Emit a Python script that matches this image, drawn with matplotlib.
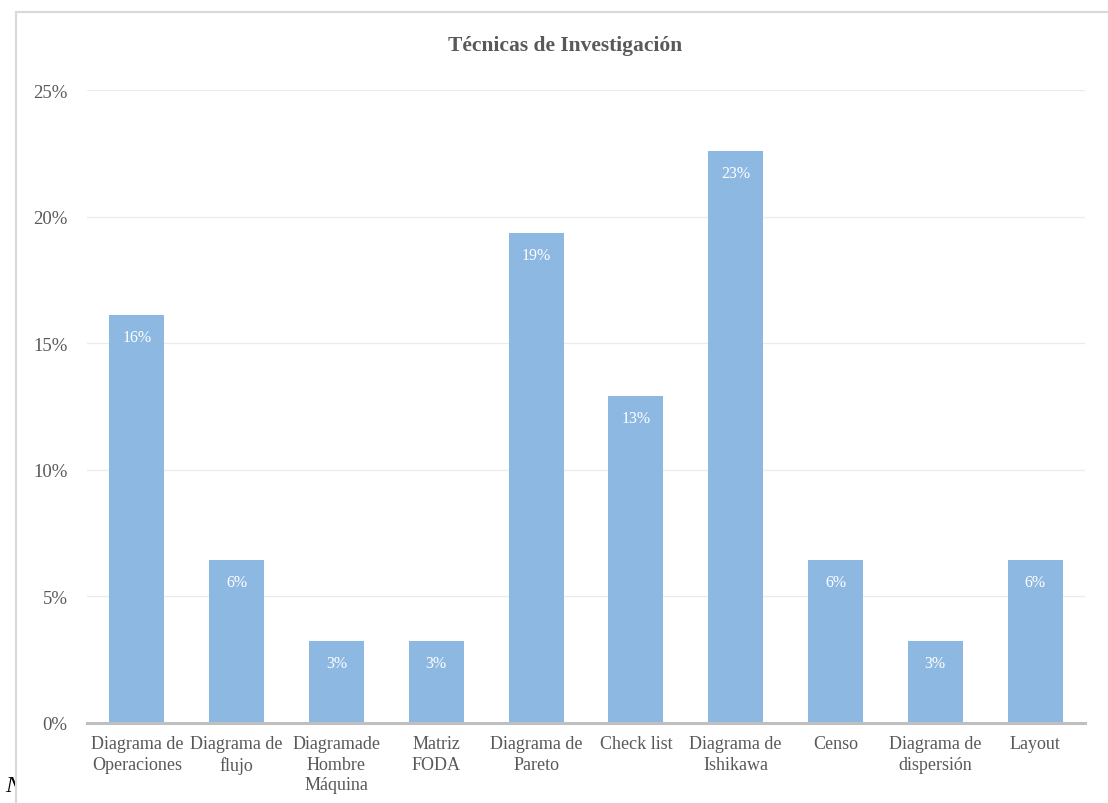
import matplotlib.pyplot as plt
from matplotlib.patches import Rectangle
from matplotlib.ticker import PercentFormatter

# data
categories = ["Diagrama de\nOperaciones", "Diagrama de\nflujo", "Diagramade\nHombre\nMáquina",
              "Matriz\nFODA", "Diagrama de\nPareto", "Check list", "Diagrama de\nIshikawa",
              "Censo", "Diagrama de\ndispersión", "Layout"]
counts = [5, 2, 1, 1, 6, 4, 7, 2, 1, 2]
total = sum(counts)
shares = [c / total for c in counts]
labels = ["16%", "6%", "3%", "3%", "19%", "13%", "23%", "6%", "3%", "6%"]
yticks = [0, 0.05, 0.10, 0.15, 0.20, 0.25]

W, H = 1108, 804
fig = plt.figure(figsize=(W / 100, H / 100), dpi=100)
fig.patch.set_facecolor("white")
plt.rcParams["font.family"] = ["Liberation Serif", "DejaVu Serif"]

# partly hidden note text behind the chart frame
fig.text(5 / W, 1 - 792 / H, "N", fontsize=17, style="italic", color="black", zorder=0.5)

# chart frame
frame = Rectangle((16 / W, -0.05), 1.2, 1 - 13 / H + 0.05, transform=fig.transFigure,
                  facecolor="white", edgecolor="#D9D9D9", linewidth=1.5, zorder=1)
fig.patches.append(frame)

ax = fig.add_axes([87 / W, 1 - 724 / H, (1085 - 87) / W, (724 - 91) / H])
ax.set_zorder(2)
ax.patch.set_alpha(0)

x = range(len(categories))
ax.bar(x, shares, width=0.55, color="#8DB8E2", zorder=2)
for i, (v, lab) in enumerate(zip(shares, labels)):
    ax.annotate(lab, (i, v), xytext=(0, -22), textcoords="offset pixels",
                ha="center", va="center", color="white", fontsize=11.5, zorder=3)

ax.set_xlim(-0.5, len(categories) - 0.5)
ax.set_ylim(0, 0.25)
ax.set_yticks(yticks)
ax.yaxis.set_major_formatter(PercentFormatter(1.0, decimals=0))
ax.grid(axis="y", color="#EBEBEB", linewidth=1)
ax.set_axisbelow(True)
for s in ["top", "right", "left"]:
    ax.spines[s].set_visible(False)
ax.spines["bottom"].set_color("#BFBFBF")
ax.spines["bottom"].set_linewidth(2.2)
ax.spines["bottom"].set_zorder(4)

ax.set_xticks(list(x))
ax.set_xticklabels(categories, fontsize=13, color="#595959", linespacing=1.25)
ax.tick_params(axis="x", length=0, pad=9)
ax.tick_params(axis="y", length=0, pad=14, labelsize=13.5, labelcolor="#595959")

fig.text(565 / W, 1 - 46 / H, "Técnicas de Investigación", ha="center", va="center",
         fontsize=15.5, fontweight="bold", color="#595959")

fig.savefig("out.png", dpi=100)
